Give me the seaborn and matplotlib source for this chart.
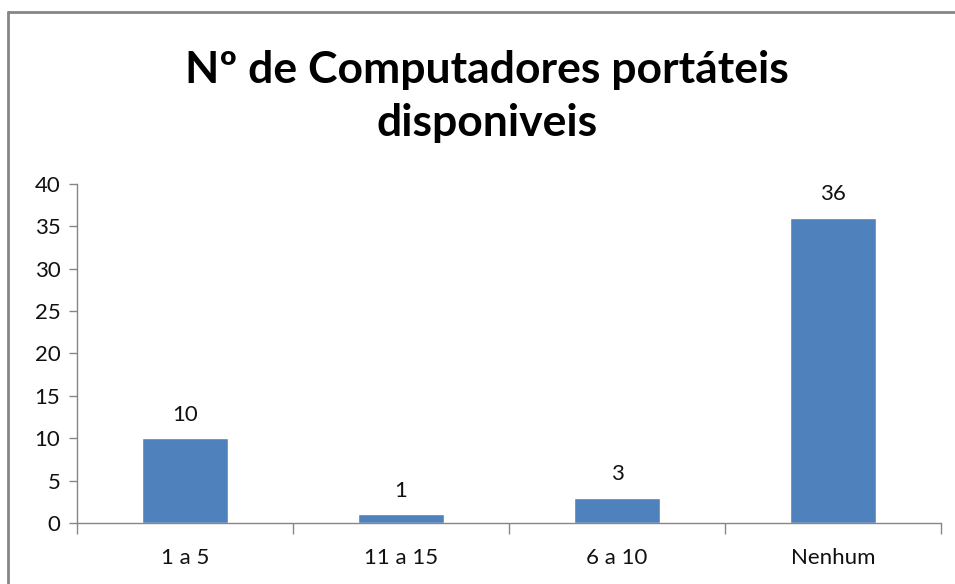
import matplotlib
matplotlib.use('Agg')

import pandas as pd
import matplotlib.pyplot as plt
import seaborn as sns
from matplotlib.lines import Line2D

# DATA
categorias = ['1 a 5', '11 a 15', '6 a 10', 'Nenhum']
contagens = [10, 1, 3, 36]
titulo = 'Nº de Computadores portáteis\ndisponiveis'

df = pd.DataFrame({'categoria': categorias, 'n': contagens})

sns.set_style('white')
plt.rcParams['font.family'] = ['Lato', 'DejaVu Sans']

fig = plt.figure(figsize=(9.55, 5.84), dpi=100)
ax = fig.add_axes([0.0806, 0.1045, 0.9047, 0.5804])

sns.barplot(data=df, x='categoria', y='n', color='#4F81BD', saturation=1,
            width=0.4, ax=ax)

# data labels
for i, v in enumerate(contagens):
    ax.text(i, v + 1.6, str(v), ha='center', va='bottom', fontsize=16, color='#111111')

ax.set_ylim(0, 40)
ax.set_xlim(-0.5, len(categorias) - 0.5)
ax.set_yticks(range(0, 41, 5))
ax.set_xlabel('')
ax.set_ylabel('')

# tick marks between categories, like excel
ax.set_xticks([i + 0.5 for i in range(-1, len(categorias))], minor=True)
ax.tick_params(axis='x', which='major', length=0, labelsize=16, pad=18, colors='#111111')
ax.tick_params(axis='x', which='minor', length=8, width=1, color='#868686', direction='out', bottom=True)
ax.tick_params(axis='y', length=6, width=1, color='#868686', labelsize=16, labelcolor='#111111',
               direction='out', left=True, pad=6)

for s in ['top', 'right']:
    ax.spines[s].set_visible(False)
for s in ['left', 'bottom']:
    ax.spines[s].set_color('#868686')
    ax.spines[s].set_linewidth(1)

fig.text(0.51, 0.835, titulo, ha='center', va='center', fontsize=32, fontweight='bold',
         linespacing=1.4, color='black')

# chart area border (top and left only visible in the crop)
x0, y0 = 8 / 955, 1 - 12 / 584
fig.add_artist(Line2D([x0, 1.0], [y0, y0], transform=fig.transFigure, color='#868686', lw=2))
fig.add_artist(Line2D([x0, x0], [0, y0], transform=fig.transFigure, color='#868686', lw=2))

fig.savefig('out.png', dpi=100)
